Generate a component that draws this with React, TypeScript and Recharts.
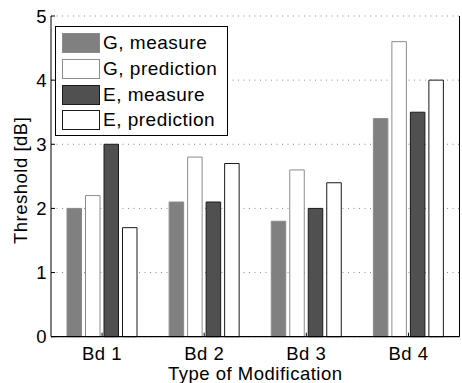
import React from 'react';
import { BarChart, Bar, XAxis, YAxis, CartesianGrid, Legend } from 'recharts';

const categories = ['Bd 1', 'Bd 2', 'Bd 3', 'Bd 4'];
const gMeasure = [2.0, 2.1, 1.8, 3.4];
const gPrediction = [2.2, 2.8, 2.6, 4.6];
const eMeasure = [3.0, 2.1, 2.0, 3.5];
const ePrediction = [1.7, 2.7, 2.4, 4.0];
const yTicks = [0, 1, 2, 3, 4, 5];
const topTicks = [1, 2, 3, 4];
const seriesNames = ['G, measure', 'G, prediction', 'E, measure', 'E, prediction'];
const seriesKeys = ['gm', 'gp', 'em', 'ep'];

const seriesStyles: Record<string, { fill: string; stroke: string }> = {
  gm: { fill: '#808080', stroke: '#8a8a8a' },
  gp: { fill: '#ffffff', stroke: '#8c8c8c' },
  em: { fill: '#505050', stroke: '#1a1a1a' },
  ep: { fill: '#ffffff', stroke: '#1a1a1a' },
};

const data = categories.map((name, i) => ({
  name,
  gm: gMeasure[i],
  gp: gPrediction[i],
  em: eMeasure[i],
  ep: ePrediction[i],
}));

const FONT = '"Liberation Sans", Arial, Helvetica, sans-serif';

const LegendBox = (props: any) => {
  const payload = [...(props.payload || [])].sort(
    (a: any, b: any) => seriesKeys.indexOf(a.dataKey) - seriesKeys.indexOf(b.dataKey)
  );
  return (
    <div
      style={{
        position: 'relative',
        width: 173,
        height: 110,
        boxSizing: 'border-box',
        border: '1px solid #000',
        background: '#fff',
        fontFamily: FONT,
        fontSize: 19,
        letterSpacing: 0.5,
        color: '#000',
      }}
    >
      {payload.map((entry: any, i: number) => {
        const st = seriesStyles[entry.dataKey as string] || { fill: entry.color, stroke: entry.color };
        return (
          <div key={i} style={{ position: 'absolute', left: 0, top: 5.7 + i * 25.9, height: 20, width: 170 }}>
            <div
              style={{
                position: 'absolute',
                left: 6,
                top: 0,
                width: 38,
                height: 20,
                boxSizing: 'border-box',
                background: st.fill,
                border: `1px solid ${st.stroke}`,
              }}
            />
            <span style={{ position: 'absolute', left: 47, top: -1, lineHeight: '22px', whiteSpace: 'nowrap' }}>
              {entry.value}
            </span>
          </div>
        );
      })}
    </div>
  );
};

export default function App() {
  const tickStyle = { fill: '#000', fontSize: 18.5, fontFamily: FONT, letterSpacing: 0.5 };
  return (
    <div style={{ position: 'absolute', left: 0, top: 0, width: 462, height: 383, background: '#fff' }}>
      <BarChart
        width={462}
        height={383}
        data={data}
        margin={{ top: 16, right: 0, bottom: 0, left: 0 }}
        barSize={14.5}
        barGap={4}
      >
        <CartesianGrid
          horizontal={true}
          vertical={false}
          stroke="#8a8a8a"
          strokeDasharray="1 4.5"
          yAxisId={0}
        />
        <XAxis
          dataKey="name"
          xAxisId={0}
          height={46.3}
          tick={tickStyle}
          tickSize={-4}
          tickMargin={14}
          axisLine={{ stroke: '#000', strokeWidth: 1.3 }}
          tickLine={{ stroke: '#000' }}
          interval={0}
          label={{
            value: 'Type of Modification',
            position: 'insideBottom',
            offset: 3.5,
            fill: '#000',
            fontSize: 18.5,
            letterSpacing: 0.5,
            fontFamily: FONT,
          }}
        />
        <XAxis
          xAxisId="top"
          orientation="top"
          type="number"
          domain={[0.5, 4.5]}
          ticks={topTicks}
          allowDataOverflow
          height={0}
          tick={false}
          tickSize={-4}
          axisLine={{ stroke: '#000' }}
          tickLine={{ stroke: '#000' }}
        />
        <YAxis
          yAxisId={0}
          width={51}
          domain={[0, 5]}
          ticks={yTicks}
          type="number"
          interval={0}
          tick={tickStyle}
          tickSize={-4}
          tickMargin={8}
          axisLine={{ stroke: '#000' }}
          tickLine={{ stroke: '#000' }}
          label={{
            value: 'Threshold [dB]',
            angle: -90,
            position: 'center',
            dx: -5,
            dy: 4,
            fill: '#000',
            fontSize: 18.5,
            letterSpacing: 0.5,
            fontFamily: FONT,
          }}
        />
        <YAxis
          yAxisId="right"
          orientation="right"
          width={2.5}
          domain={[0, 5]}
          ticks={yTicks}
          type="number"
          allowDataOverflow
          tick={false}
          tickSize={-4}
          axisLine={{ stroke: '#000' }}
          tickLine={{ stroke: '#000' }}
        />
        <Legend
          layout="horizontal"
          verticalAlign="middle"
          align="center"
          wrapperStyle={{ position: 'absolute', left: 55, top: 26, width: 173, height: 110 }}
          content={(props: any) => <LegendBox payload={props.payload} />}
        />
        {seriesKeys.map((k, i) => (
          <Bar
            key={k}
            dataKey={k}
            name={seriesNames[i]}
            fill={seriesStyles[k].fill}
            stroke={seriesStyles[k].stroke}
            strokeWidth={1}
            isAnimationActive={false}
            xAxisId={0}
            yAxisId={0}
          />
        ))}
      </BarChart>
    </div>
  );
}
